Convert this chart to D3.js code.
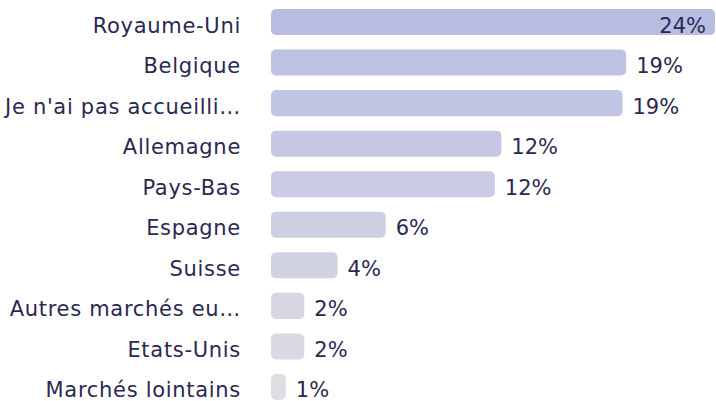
<!DOCTYPE html>
<html>
<head>
<meta charset="utf-8">
<script src="https://cdn.jsdelivr.net/npm/d3@7"></script>
<style>
    body { margin: 0; background: #fff; }
    svg { display: block; }
</style>
</head>
<body>
<svg id="vis" width="716" height="401"></svg>
<script>
// data
var categories = ["Royaume-Uni", "Belgique", "Je n'ai pas accueilli\u2026", "Allemagne", "Pays-Bas",
                  "Espagne", "Suisse", "Autres marchés eu\u2026", "Etats-Unis", "Marchés lointains"];
var values = [24, 19.2, 19.0, 12.45, 12.1, 6.2, 3.6, 1.8, 1.8, 0.8];

// constant
var width = 716;
var height = 401;
var barLeft = 271;
var barRight = 715;
var labelRight = 240;
var textColor = "#2b2852";
var fontFamily = "'DejaVu Sans', sans-serif";

var rows = categories.map(function (c, i) {
    return {name: c, value: values[i]};
});

var x = d3.scaleLinear().domain([0, d3.max(values)]).range([barLeft, barRight]);
var y = d3.scaleBand().domain(categories).range([9, 400]).paddingInner(0.358).paddingOuter(0);
var color = d3.scaleLinear().domain([0, categories.length - 1])
              .range(["#b9bde2", "#dedee2"]).interpolate(d3.interpolateRgb);

var vis = d3.select("#vis");

// bars
vis.append("g")
    .selectAll("rect")
    .data(rows)
    .enter()
    .append("rect")
    .attr("x", x(0))
    .attr("y", function (d) { return y(d.name); })
    .attr("width", function (d) { return x(d.value) - x(0); })
    .attr("height", y.bandwidth())
    .attr("rx", 5)
    .attr("fill", function (d, i) { return color(i); });

// category labels
vis.append("g")
    .selectAll("text")
    .data(rows)
    .enter()
    .append("text")
    .attr("x", labelRight + 1)
    .attr("y", function (d) { return y(d.name) + y.bandwidth() / 2; })
    .attr("dy", "0.5em")
    .attr("text-anchor", "end")
    .style("font-family", fontFamily)
    .style("font-size", "21px")
    .style("letter-spacing", "0.7px")
    .style("fill", textColor)
    .text(function (d) { return d.name; });

// value labels, the largest one sits inside its bar
vis.append("g")
    .selectAll("text")
    .data(rows)
    .enter()
    .append("text")
    .attr("x", function (d, i) { return i === 0 ? x(d.value) - 9 : x(d.value) + 10; })
    .attr("y", function (d) { return y(d.name) + y.bandwidth() / 2; })
    .attr("dy", "0.5em")
    .attr("text-anchor", function (d, i) { return i === 0 ? "end" : "start"; })
    .style("font-family", fontFamily)
    .style("font-size", "21px")
    .style("letter-spacing", "0px")
    .style("fill", textColor)
    .text(function (d) { return d.value.toFixed(0) + "%"; });
</script>
</body>
</html>
